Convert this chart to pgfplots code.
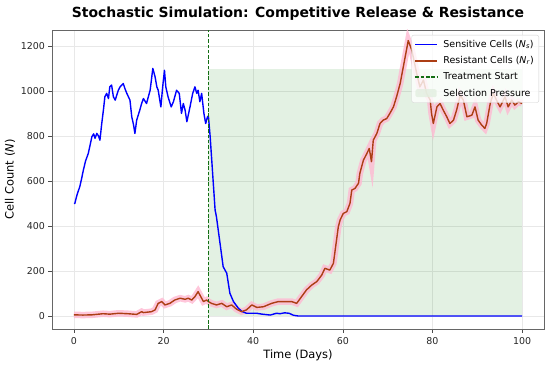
\documentclass[border=0pt]{standalone}
\usepackage{pgfplots}
\pgfplotsset{compat=1.18}
\usepackage{fontspec}
\setmainfont{DejaVu Sans}
\definecolor{resred}{RGB}{172,62,20}
\definecolor{bandpink}{RGB}{255,185,210}
\definecolor{trtgreen}{RGB}{20,110,20}
\definecolor{selgreen}{RGB}{0,128,0}
\definecolor{sellight}{RGB}{226,239,224}
\begin{document}
\begin{tikzpicture}
\path[use as bounding box] (-52bp,-37bp) rectangle (498bp,329bp);
\begin{axis}[
  scale only axis,
  width=492bp, height=299bp,
  xmin=-4.9, xmax=104.9,
  ymin=-58, ymax=1272,
  xtick={0,20,40,60,80,100},
  ytick={0,200,400,600,800,1000,1200},
  /pgf/number format/assume math mode=true,
  /pgf/number format/1000 sep={},
  ticklabel style={font=\fontsize{9.5}{10}\selectfont, text=black!85},
  xticklabel style={yshift=-1.5bp},
  tick align=outside, tick pos=left,
  major tick length=3.5bp,
  every tick/.style={black!70, line width=0.6bp},
  axis line style={black!60, line width=0.6bp},
  grid=major,
  major grid style={gray!18, line width=0.5bp},
  xlabel={Time (Days)},
  ylabel={Cell Count (\textit{N})},
  label style={font=\fontsize{11.5}{13}\selectfont},
  xlabel style={yshift=2bp},
  ylabel style={yshift=-1bp},
  title={Stochastic Simulation: Competitive Release \& Resistance},
  title style={font=\bfseries\fontsize{14}{16}\selectfont, yshift=0bp},
  legend cell align=left,
  legend style={at={(1,1)}, xshift=-5bp, yshift=-5bp, anchor=north east, draw=gray!35,
    rounded corners=2bp, fill=white, fill opacity=0.8, text opacity=1,
    font=\fontsize{9.5}{11}\selectfont, row sep=3.6bp, inner xsep=3bp, inner ysep=3bp,
    /tikz/every odd column/.append style={column sep=4bp}},
]
% selection pressure area
\addplot[fill=selgreen, fill opacity=0.11, draw=none, forget plot]
  coordinates {(30,0) (100,0) (100,1100) (30,1100)} -- cycle;

% pink band around resistant
\addplot[bandpink, line width=6.5bp, opacity=0.8, forget plot, line join=miter]
  table {
x y
0 5
2 4
4 5
6.5 10
8 8
10 12
12 10
14 7
15.1 19
15.5 15
17.3 19
18.1 27
18.8 56
19.6 64
20.3 49
21.4 56
22.5 71
23.7 79
24.8 74
25.5 79
26.3 71
27.0 86
27.7 108
28.3 86
28.9 64
29.6 71
30.0 64
30.7 56
31.8 49
33.0 56
34.1 41
35.2 49
36.3 30
37.4 19
38.5 27
39.7 49
40.8 38
42.3 41
44.1 56
45.6 64
47.1 64
48.6 64
49.7 56
50.8 86
51.9 116
53.1 138
54.2 153
55.3 182
56.0 212
57.1 204
57.9 234
58.3 293
59.0 397
59.4 427
60.1 456
60.9 464
61.6 501
62.0 560
62.7 567
63.5 590
63.8 634
64.2 664
64.6 693
65.3 720
65.9 745
66.4 686
66.8 782
67.6 812
68.3 856
69.0 871
69.8 878
70.5 901
71.3 930
72.0 975
72.8 1034
73.5 1108
74.2 1182
74.6 1225
75.4 1182
76.5 1078
77.2 1019
78.0 1049
78.7 990
79.5 960
79.8 901
80.2 856
81.0 930
81.7 945
82.4 916
83.2 886
83.9 856
84.7 871
85.4 916
86.2 982
86.9 960
87.7 886
88.8 893
89.5 930
90.2 871
91.0 849
91.7 834
92.1 856
92.9 945
93.6 990
94.3 960
95.1 930
96.2 975
96.9 930
97.7 960
98.4 938
99.2 953
100 945
};

% sensitive
\addplot[blue, line width=1.4bp, line join=round,
  legend image code/.code={\draw[blue, line width=1.5bp] (0cm,0cm) -- (0.75cm,0cm);}] table {
x y
0 500
0.2 501
0.7 540
1.3 575
1.7 610
2.1 649
2.6 690
3.2 723
3.6 760
4.0 797
4.4 810
4.7 790
5.1 812
5.5 800
5.8 782
6.2 856
6.6 920
6.9 975
7.3 990
7.7 967
8.0 1019
8.4 1027
8.8 975
9.2 960
9.9 1004
10.3 1019
11.0 1034
11.4 1010
11.8 990
12.5 960
12.9 886
13.3 850
13.6 812
14.0 871
14.7 916
15.1 945
15.5 967
16.2 945
16.6 975
17.0 1004
17.6 1101
18.1 1064
18.5 1019
18.8 1004
19.4 930
19.8 1019
20.2 1093
20.5 1019
21.0 975
21.7 930
22.2 953
22.9 1004
23.5 990
24.0 901
24.4 945
24.8 916
25.2 864
25.9 930
26.5 990
27.0 1019
27.4 990
27.7 1004
28.1 953
28.5 990
29.0 901
29.4 856
29.8 886
30.0 890
30.4 797
31.0 619
31.5 471
31.8 441
32.6 323
33.3 219
34.1 190
34.8 101
35.6 64
36.7 34
37.5 20
38.5 12
40.8 12
42.0 8
43.8 4
45.2 12
46.0 10
47.0 14
48.0 12
49.0 3
50.0 0
100 0
};
\addlegendentry{Sensitive Cells (\textit{N}\textsubscript{\textit{s}})}

% resistant
\addplot[resred, line width=1.4bp, line join=round,
  legend image code/.code={\draw[resred, line width=1.5bp] (0cm,0cm) -- (0.75cm,0cm);}] table {
x y
0 5
2 4
4 5
6.5 10
8 8
10 12
12 10
14 7
15.1 19
15.5 15
17.3 19
18.1 27
18.8 56
19.6 64
20.3 49
21.4 56
22.5 71
23.7 79
24.8 74
25.5 79
26.3 71
27.0 86
27.7 108
28.3 86
28.9 64
29.6 71
30.0 64
30.7 56
31.8 49
33.0 56
34.1 41
35.2 49
36.3 30
37.4 19
38.5 27
39.7 49
40.8 38
42.3 41
44.1 56
45.6 64
47.1 64
48.6 64
49.7 56
50.8 86
51.9 116
53.1 138
54.2 153
55.3 182
56.0 212
57.1 204
57.9 234
58.3 293
59.0 397
59.4 427
60.1 456
60.9 464
61.6 501
62.0 560
62.7 567
63.5 590
63.8 634
64.2 664
64.6 693
65.3 720
65.9 745
66.4 686
66.8 782
67.6 812
68.3 856
69.0 871
69.8 878
70.5 901
71.3 930
72.0 975
72.8 1034
73.5 1108
74.2 1182
74.6 1225
75.4 1182
76.5 1078
77.2 1019
78.0 1049
78.7 990
79.5 960
79.8 901
80.2 856
81.0 930
81.7 945
82.4 916
83.2 886
83.9 856
84.7 871
85.4 916
86.2 982
86.9 960
87.7 886
88.8 893
89.5 930
90.2 871
91.0 849
91.7 834
92.1 856
92.9 945
93.6 990
94.3 960
95.1 930
96.2 975
96.9 930
97.7 960
98.4 938
99.2 953
100 945
};
\addlegendentry{Resistant Cells (\textit{N}\textsubscript{\textit{r}})}

% treatment start
\addplot[trtgreen, line width=1.1bp, dash pattern=on 3.5bp off 1.8bp,
  legend image code/.code={\draw[trtgreen, line width=1.1bp, dash pattern=on 3.5bp off 1.8bp] (0cm,0cm) -- (0.75cm,0cm);}]
  coordinates {(30,-58) (30,1272)};
\addlegendentry{Treatment Start}

\addlegendimage{legend image code/.code={\path[fill=sellight, draw=none] (0cm,-0.14cm) rectangle (0.75cm,0.14cm);}}
\addlegendentry{Selection Pressure}
\end{axis}
\end{tikzpicture}
\end{document}
